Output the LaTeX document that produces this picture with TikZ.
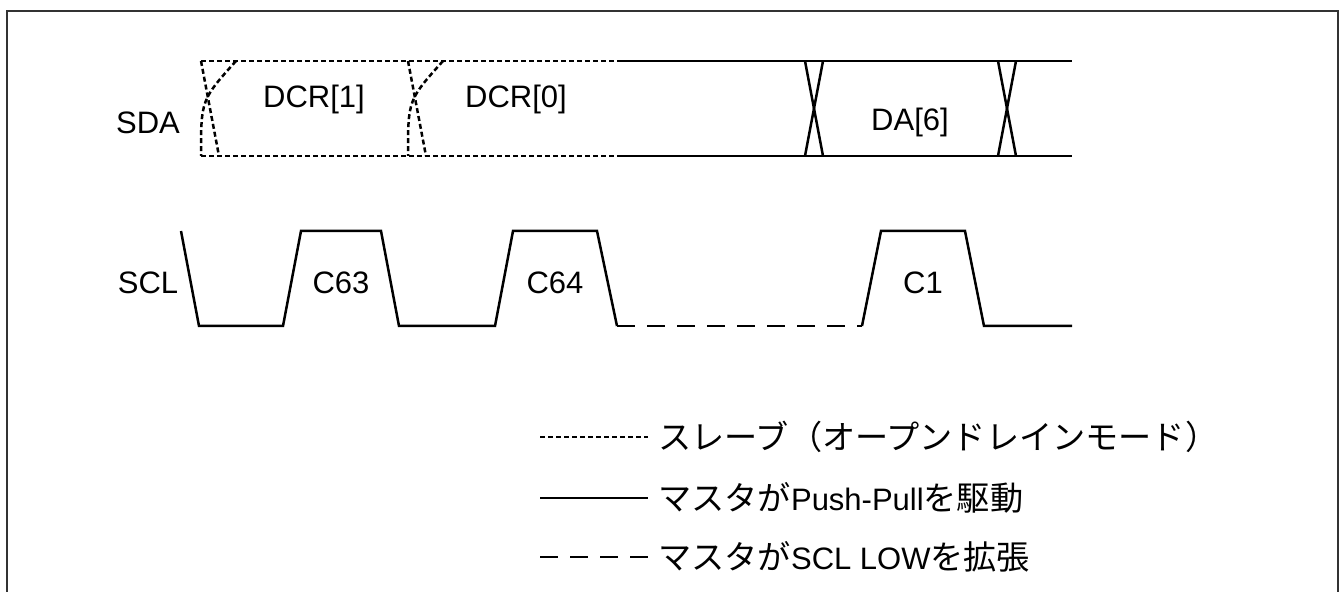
\documentclass[tikz,border=0pt]{standalone}
\usepackage{fontspec}
\setmainfont{Liberation Sans}
\newfontfamily\jpfont[Scale=1.07]{Noto Sans CJK JP}
\usetikzlibrary{positioning}
\definecolor{framegray}{HTML}{333333}
\tikzset{
  sig/.style={line width=1.25pt,line join=miter},
  slave/.style={sig,dash pattern=on 2.5pt off 1.5pt},
  master/.style={sig},
  stretch/.style={sig,dash pattern=on 9pt off 6pt},
  lbl/.style={font=\fontsize{15.5}{18}\selectfont,inner sep=0pt},
  legend/.style={lbl,anchor=west}
}

\begin{document}
\begin{tikzpicture}[x=0.5pt,y=-0.5pt]
  \useasboundingbox (0,0) rectangle (1341,592);
  \draw[framegray,line width=1.1pt] (7,592) -- (7,11) -- (1338,11) -- (1338,592);
  % SDA
  \node[lbl] (sda) at (148,123) {SDA};
  \draw[slave] (201,61) -- (615,61);
  \draw[slave] (201,156) -- (615,156);
  \foreach \x in {201,408}{
    \draw[slave] (\x,61) -- (\x+18,156);
    \draw[slave] (\x+35,61) .. controls (\x,100) .. (\x,156);
  }
  \draw[master] (617,61) -- (1072,61);
  \draw[master] (617,156) -- (1072,156);
  \foreach \x in {805,998}{
    \draw[master] (\x,61) -- (\x+18,156);
    \draw[master] (\x+18,61) -- (\x,156);
  }
  \node[lbl] (dcr1) at (314,99) {DCR[1]};
  \node[lbl] (dcr0) at (516,99) {DCR[0]};
  \node[lbl] (da6) at (910,122) {DA[6]};
  % SCL
  \node[lbl] (scl) at (148,283) {SCL};
  \draw[master] (181,231) -- (199,326) -- (283,326) -- (301,231) -- (381,231) -- (399,326)
    -- (495,326) -- (513,231) -- (597,231) -- (617,326);
  \draw[stretch] (617,326) -- (862,326);
  \draw[master] (862,326) -- (881,231) -- (965,231) -- (984,326) -- (1072,326);
  \node[lbl] (c63) at (341,283) {C63};
  \node[lbl] (c64) at (555,283) {C64};
  \node[lbl] (c1) at (923,283) {C1};
  % legend
  \coordinate (slvL) at (540,437);
  \coordinate (slvR) at (648,437);
  \draw[slave] (slvL) -- (slvR);
  \node[legend,right=5pt of slvR] (slvtxt) {\jpfont スレーブ（オープンドレインモード）};
  \coordinate (mstL) at (540,498);
  \coordinate (mstR) at (648,498);
  \draw[master] (mstL) -- (mstR);
  \node[legend,right=5pt of mstR] (msttxt) {{\jpfont マスタが}Push-Pull{\jpfont を駆動}};
  \coordinate (strL) at (540,557);
  \coordinate (strR) at (648,557);
  \draw[stretch] (strL) -- (strR);
  \node[legend,right=5pt of strR] (strtxt) {{\jpfont マスタが}SCL LOW{\jpfont を拡張}};
\end{tikzpicture}
\end{document}
